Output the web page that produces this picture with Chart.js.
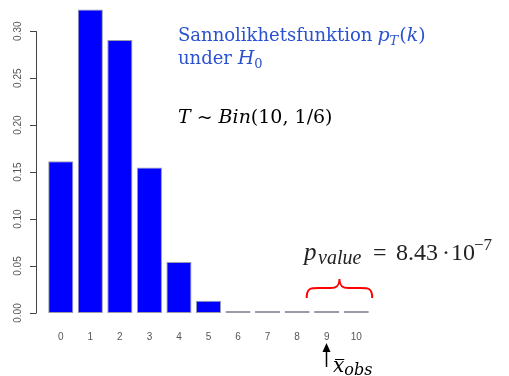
<!DOCTYPE html>
<html>
<head>
<meta charset="utf-8">
<script src="https://cdn.jsdelivr.net/npm/chart.js@4.4.0/dist/chart.umd.min.js"></script>
<style>
  html, body { margin: 0; padding: 0; background: #fff; }
  #wrap { width: 509px; height: 376px; }
</style>
</head>
<body>
<div id="wrap"><canvas id="binChart" width="509" height="376"></canvas></div>
<script>
// T ~ Bin(10, 1/6), sannolikheter läst från figuren
const kValues = ["0", "1", "2", "3", "4", "5", "6", "7", "8", "9", "10"];
const probs = [0.1615, 0.3230, 0.2907, 0.1550, 0.0543, 0.0130, 0.0022, 0.0002, 0.00002, 0.0000008, 0.00000002];
const yTicks = [0, 0.05, 0.10, 0.15, 0.20, 0.25, 0.30];
const yTickLabels = ["0.00", "0.05", "0.10", "0.15", "0.20", "0.25", "0.30"];

const cambria = '"DejaVu Serif", serif';
const latex = '"Liberation Serif", "DejaVu Serif", serif';

// skriver en rad med olika delar (kursiv, index, exponent); x kan anges per del
function drawRuns(ctx, x, y, runs, color, family) {
  ctx.save();
  ctx.fillStyle = color;
  ctx.textBaseline = 'alphabetic';
  ctx.textAlign = 'left';
  runs.forEach(r => {
    if (r.x !== undefined) x = r.x;
    ctx.font = (r.i ? 'italic ' : '') + r.size + 'px ' + family;
    ctx.fillText(r.t, x, y + (r.dy || 0));
    x += ctx.measureText(r.t).width + (r.gap || 0);
  });
  ctx.restore();
  return x;
}

const extras = {
  id: 'extras',
  afterDraw(chart) {
    const ctx = chart.ctx;
    const ys = chart.scales.y;
    const xs = chart.scales.x;

    // y-axel i R-stil
    const ax = 36;
    ctx.save();
    ctx.strokeStyle = '#444';
    ctx.lineWidth = 1;
    ctx.beginPath();
    ctx.moveTo(ax + 0.5, ys.getPixelForValue(0));
    ctx.lineTo(ax + 0.5, ys.getPixelForValue(0.30));
    yTicks.forEach(v => {
      const py = Math.round(ys.getPixelForValue(v)) + 0.5;
      ctx.moveTo(ax - 6, py);
      ctx.lineTo(ax + 0.5, py);
    });
    ctx.stroke();
    ctx.fillStyle = '#555';
    ctx.font = '10px "Liberation Sans", Arial, sans-serif';
    ctx.textAlign = 'center';
    ctx.textBaseline = 'middle';
    yTicks.forEach((v, i) => {
      ctx.save();
      ctx.translate(18, ys.getPixelForValue(v));
      ctx.rotate(-Math.PI / 2);
      ctx.fillText(yTickLabels[i], 0, 0);
      ctx.restore();
    });
    ctx.restore();

    // rubrik
    const blue = '#2a52d0';
    drawRuns(ctx, 178, 41, [
      { t: 'Sannolikhetsfunktion', size: 18, gap: 5 },
      { t: 'p', size: 19, i: true },
      { t: 'T', size: 13, i: true, dy: 4, gap: 1 },
      { t: '(', size: 19 },
      { t: 'k', size: 19, i: true },
      { t: ')', size: 19 }
    ], blue, cambria);
    drawRuns(ctx, 178, 64, [
      { t: 'under ', size: 18 },
      { t: 'H', size: 19, i: true },
      { t: '0', size: 13, dy: 4 }
    ], blue, cambria);

    drawRuns(ctx, 178, 123, [
      { t: 'T', size: 19, i: true, gap: 6 },
      { t: '~', size: 19, gap: 6 },
      { t: 'Bin', size: 19, i: true },
      { t: '(10, 1/6)', size: 19 }
    ], '#000', cambria);

    // p-värde
    drawRuns(ctx, 304, 260, [
      { t: 'p', size: 25, i: true, x: 304 },
      { t: 'value', size: 20, i: true, dy: 4, x: 318 },
      { t: '=', size: 24, x: 373 },
      { t: '8.43', size: 24, x: 396 },
      { t: '·', size: 24, x: 442 },
      { t: '10', size: 24, x: 451 },
      { t: '−7', size: 17, dy: -10, x: 474 }
    ], '#222', latex);

    // klammer över k = 9, 10
    const x9 = xs.getPixelForValue(9);
    const x10 = xs.getPixelForValue(10);
    const bl = x9 - 20, br = x10 + 16, bm = (bl + br) / 2;
    const yb = 298, ym = 288, yt = 279;
    ctx.save();
    ctx.strokeStyle = '#ff0000';
    ctx.lineWidth = 2;
    ctx.beginPath();
    ctx.moveTo(bl, yb);
    ctx.bezierCurveTo(bl, ym, bl + 4, ym, bl + 12, ym);
    ctx.lineTo(bm - 9, ym);
    ctx.bezierCurveTo(bm - 3, ym, bm, ym - 2, bm, yt);
    ctx.bezierCurveTo(bm, ym - 2, bm + 3, ym, bm + 9, ym);
    ctx.lineTo(br - 12, ym);
    ctx.bezierCurveTo(br - 4, ym, br, ym, br, yb);
    ctx.stroke();
    ctx.restore();

    // pil vid observerat värde
    const px = Math.round(x9) - 0.5;
    ctx.save();
    ctx.strokeStyle = '#000';
    ctx.fillStyle = '#000';
    ctx.lineWidth = 1.5;
    ctx.beginPath();
    ctx.moveTo(px, 367);
    ctx.lineTo(px, 350);
    ctx.stroke();
    ctx.beginPath();
    ctx.moveTo(px, 343);
    ctx.lineTo(px - 4, 352);
    ctx.lineTo(px + 4, 352);
    ctx.closePath();
    ctx.fill();
    ctx.restore();

    const xe = drawRuns(ctx, 333, 372, [{ t: 'x', size: 20, i: true }], '#000', cambria);
    ctx.save();
    ctx.strokeStyle = '#000';
    ctx.lineWidth = 1;
    ctx.beginPath();
    ctx.moveTo(335, 359.5);
    ctx.lineTo(xe, 359.5);
    ctx.stroke();
    ctx.restore();
    drawRuns(ctx, xe, 375, [{ t: 'obs', size: 16, i: true }], '#000', cambria);
  }
};

const ctx = document.getElementById('binChart').getContext('2d');
const binChart = new Chart(ctx, {
  type: 'bar',
  data: {
    labels: kValues,
    datasets: [{
      data: probs,
      backgroundColor: '#0000ff',
      borderColor: '#9a9aa8',
      borderWidth: 1,
      borderSkipped: false,
      minBarLength: 2,
      barPercentage: 0.85,
      categoryPercentage: 1.0
    }]
  },
  options: {
    responsive: false,
    animation: false,
    layout: { padding: { left: 46, right: 138, top: 3, bottom: 15 } },
    plugins: { legend: { display: false }, tooltip: { enabled: false } },
    scales: {
      x: {
        grid: { display: false, drawTicks: false },
        border: { display: false },
        ticks: { color: '#555', font: { size: 10, family: '"Liberation Sans", Arial, sans-serif' }, padding: 18 }
      },
      y: {
        display: false,
        min: 0,
        max: 0.33
      }
    }
  },
  plugins: [extras]
});
</script>
</body>
</html>
